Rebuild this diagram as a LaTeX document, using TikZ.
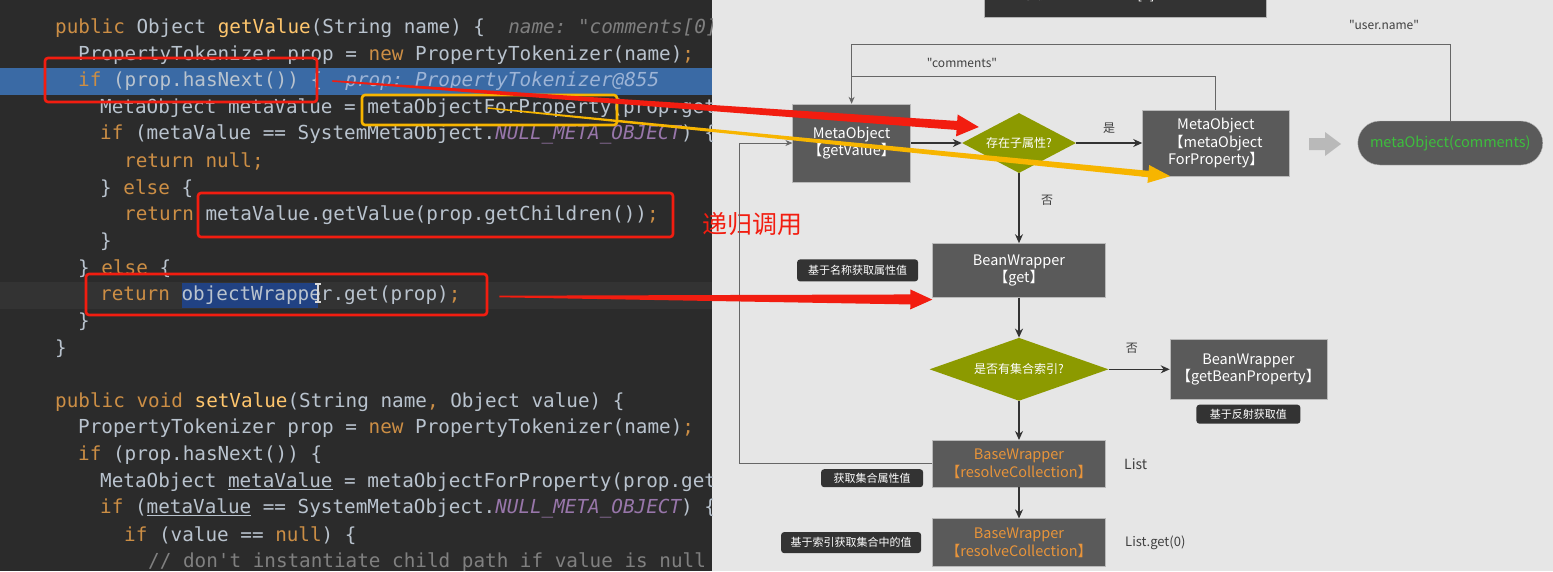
\documentclass[tikz,border=0pt]{standalone}
\usepackage{fontspec}
\setmainfont{Liberation Sans}
\setmonofont{DejaVu Sans Mono}
\newfontfamily\cjk{Noto Sans CJK SC}
\usepackage{xcolor}
\usetikzlibrary{shapes, arrows.meta, positioning, calc}

\definecolor{idebg}{HTML}{2B2B2B}
\definecolor{curline}{HTML}{333333}
\definecolor{bpline}{HTML}{3A6AA5}
\definecolor{selbg}{HTML}{214283}
\definecolor{txc}{HTML}{B9C3CE}
\definecolor{kwc}{HTML}{CC8E45}
\definecolor{fnc}{HTML}{FFC66D}
\definecolor{hintc}{HTML}{7F7F7F}
\definecolor{bphint}{HTML}{9DB4D6}
\definecolor{cstc}{HTML}{9876AA}
\definecolor{cmtc}{HTML}{808080}
\definecolor{canvas}{HTML}{E6E6E6}
\definecolor{boxgray}{HTML}{5A5A5A}
\definecolor{tagdark}{HTML}{333333}
\definecolor{olive}{HTML}{8C9A00}
\definecolor{wrapor}{HTML}{E8943A}
\definecolor{pillgreen}{HTML}{3DBE3D}
\definecolor{markred}{HTML}{F21D10}
\definecolor{markyellow}{HTML}{F7B500}

\newcommand{\jkw}[1]{\textcolor{kwc}{#1}}
\newcommand{\jfn}[1]{\textcolor{fnc}{#1}}
\newcommand{\jhint}[1]{\textcolor{hintc}{\itshape #1}}
\newcommand{\jbphint}[1]{\textcolor{bphint}{\itshape #1}}
\newcommand{\jcst}[1]{\textcolor{cstc}{\itshape #1}}
\newcommand{\jcmt}[1]{\textcolor{cmtc}{#1}}
% tapered arrow: colour, from, to, start half width, end half width, head half width
\newcommand{\fatarrow}[6]{%
  \coordinate (fab) at ($(#3)!22pt!(#2)$);
  \fill[#1] ($(#2)!#4!90:(#3)$) -- ($(fab)!#5!-90:(#2)$) -- ($(fab)!#6!-90:(#2)$) -- (#3)
    -- ($(fab)!#6!90:(#2)$) -- ($(fab)!#5!90:(#2)$) -- ($(#2)!#4!-90:(#3)$) -- cycle;}

\begin{document}
\begin{tikzpicture}[x=1pt, y=-1pt,
    codeline/.style={anchor=west, inner sep=0pt, text=txc, font=\ttfamily\fontsize{19.3}{23}\selectfont},
    stepbox/.style={draw=gray!55, fill=boxgray, text=white, align=center, inner sep=2pt, font=\cjk\fontsize{14.5}{17.5}\selectfont},
    decision/.style={diamond, fill=olive, text=white, inner sep=0pt, font=\cjk\fontsize{12}{14}\selectfont},
    tag/.style={fill=tagdark, rounded corners=3, text=white, inner sep=0pt, font=\cjk\fontsize{11}{13}\selectfont},
    note/.style={text=black!75, font=\cjk\fontsize{12}{14}\selectfont},
    flow/.style={draw=black!80, line width=1.4pt, -{Stealth[length=9pt, width=8pt]}},
    backline/.style={draw=black!60, line width=0.9pt},
    codemark/.style={draw=#1, line width=2.6pt, rounded corners=3, inner sep=0pt}]
    \useasboundingbox (0,0) rectangle (1553,571);
    \fill[canvas] (0,0) rectangle (1553,571);
    \fill[idebg] (0,0) rectangle (712,571);
    % Editor
    \begin{scope}
        \clip (0,0) rectangle (712,571);
        \fill[bpline] (0,68) rectangle (712,95);
        \fill[curline] (0,282) rectangle (712,309);
        \fill[selbg] (182,283) rectangle (318,308);
        \foreach \lx/\ly/\ltxt [count=\i] in {
            55/28/{\jkw{public} Object \jfn{getValue}(String name) \{~~\jhint{name: "comments[0].user.name"}},
            78/54.7/{PropertyTokenizer prop = \jkw{new} PropertyTokenizer(name)\jkw{;}},
            78/81.4/{\jkw{if} (prop.hasNext()) \{~~\jbphint{prop: PropertyTokenizer@855}},
            100/108.1/{MetaObject metaValue = metaObjectForProperty(prop.getName())\jkw{;}},
            100/134.8/{\jkw{if} (metaValue == SystemMetaObject.\jcst{NULL\_META\_OBJECT}) \{},
            124/161.5/{\jkw{return null;}},
            100/188.2/{\} \jkw{else} \{},
            124/214.9/{\jkw{return} metaValue.getValue(prop.getChildren())\jkw{;}},
            100/241.6/{\}},
            78/268.3/{\} \jkw{else} \{},
            100/295/{\jkw{return} objectWrapper.get(prop)\jkw{;}},
            78/321.7/{\}},
            55/348.4/{\}},
            55/401.8/{\jkw{public void} \jfn{setValue}(String name\jkw{,} Object value) \{},
            78/428.5/{PropertyTokenizer prop = \jkw{new} PropertyTokenizer(name)\jkw{;}},
            78/455.2/{\jkw{if} (prop.hasNext()) \{},
            100/481.9/{MetaObject \underline{metaValue} = metaObjectForProperty(prop.getName())\jkw{;}},
            100/508.6/{\jkw{if} (\underline{metaValue} == SystemMetaObject.\jcst{NULL\_META\_OBJECT}) \{},
            124/535.3/{\jkw{if} (value == \jkw{null}) \{},
            148/562/{\jcmt{// don't instantiate child path if value is null}}} {
            \node[codeline] (ln\i) at (\lx,\ly) {\ltxt};
        }
        \draw[white!85!black, line width=1.2pt] (318,284) -- (318,302) (315,284) -- (321,284) (315,302) -- (321,302);
    \end{scope}
    % Marks on the code
    \node[codemark=markred, minimum width=272, minimum height=44] (markA) at (181,80) {};
    \node[codemark=markyellow, minimum width=255, minimum height=30] (markY) at (489.5,110) {};
    \node[codemark=markred, minimum width=475, minimum height=44] (markB) at (435.5,215) {};
    \node[codemark=markred, minimum width=401, minimum height=41] (markC) at (286.5,294.5) {};
    \node[text=markred, font=\cjk\fontsize{25}{28}\selectfont] (recur) at (752,224) {递归调用};
    % Example path
    \node[fill=tagdark, draw=gray!60, text=white, minimum width=282, minimum height=44, font=\cjk\fontsize{14}{17}\selectfont] (sample) at (1125,-5) {示例： comments[0].user.name};
    % getValue chain
    \node[decision, aspect=1.9, minimum width=114, minimum height=60] (hassub) at (1019,143) {存在子属性?};
    \node[stepbox, minimum width=118, minimum height=78, left=51pt of hassub] (mvget) {MetaObject\\【getValue】};
    \node[stepbox, minimum width=147, minimum height=66, right=66pt of hassub] (mofp) {MetaObject\\【metaObject\\ForProperty】};
    \node[stepbox, rounded corners=22, text=pillgreen, minimum width=185, minimum height=44, right=68pt of mofp] (comments) {metaObject(comments)};
    \fill[gray!55] (1309,138) -- (1325,138) -- (1325,132) -- (1341,144) -- (1325,156) -- (1325,150) -- (1309,150) -- cycle;
    \node[stepbox, minimum width=173, minimum height=54, below=70pt of hassub] (bwget) {BeanWrapper\\【get】};
    \node[decision, aspect=2.84, minimum width=179, minimum height=63, below=40pt of bwget] (hasidx) {是否有集合索引?};
    \node[stepbox, minimum width=157, minimum height=60, right=61pt of hasidx] (bwprop) {BeanWrapper\\【getBeanProperty】};
    \node[stepbox, text=wrapor, minimum width=173, minimum height=47, below=39pt of hasidx] (coll) {BaseWrapper\\【resolveCollection】};
    \node[stepbox, text=wrapor, minimum width=173, minimum height=48, below=31pt of coll] (collget) {BaseWrapper\\【resolveCollection】};
    % Tags
    \node[tag, minimum width=121, minimum height=22, left=14pt of bwget] (byname) {基于名称获取属性值};
    \node[tag, minimum width=104, minimum height=19, below=5pt of bwprop] (byreflect) {基于反射获取值};
    \node[tag, minimum width=102, minimum height=18, anchor=south east] (collprop) at ($(coll.south west)+(-9,0)$) {获取集合属性值};
    \node[tag, minimum width=140, minimum height=21, left=11pt of collget] (byindex) {基于索引获取集合中的值};
    \node[note, anchor=west, font=\cjk\fontsize{14}{16}\selectfont, right=15pt of coll] (listlbl) {List};
    \node[note, anchor=west, font=\cjk\fontsize{13}{15}\selectfont, right=16pt of collget] (listget) {List.get(0)};
    \node[note] (commentslbl) at (962,63) {"comments"};
    \node[note] (userlbl) at (1384,25) {"user.name"};
    % Connectors
    \draw[flow] (mvget) -- (hassub);
    \draw[flow] (hassub) -- node[note, above=5pt, pos=0.5] {是} (mofp);
    \draw[flow] (hassub) -- node[note, right=18pt, pos=0.38] {否} (bwget);
    \draw[flow] (bwget) -- (hasidx);
    \draw[flow] (hasidx) -- node[note, above=12pt, pos=0.38] {否} (bwprop);
    \draw[flow] (hasidx) -- (coll);
    \draw[flow] (coll) -- (collget);
    \draw[backline, -{Stealth[length=7pt, width=6pt]}] (coll.west) -- ++(-193,0) |- (mvget.west);
    \draw[backline, -{Stealth[length=7pt, width=6pt]}] (comments.north) -- ++(0,-76) -| (mvget.north);
    \draw[backline] (mofp.north) |- ($(mvget.north)+(0,-27)$);
    % Pointers from the code
    \coordinate (hasnextout) at ($(markA.east)+(14,1)$);
    \coordinate (subin) at ($(hassub.west)+(17,-16)$);
    \coordinate (forpropout) at ($(markY.center)+(-2,-2)$);
    \coordinate (mofpin) at ($(mofp.south west)+(28,0)$);
    \coordinate (wrapout) at ($(markC.east)+(11,2)$);
    \coordinate (bwgetin) at ($(bwget.south west)+(0,2)$);
    \fatarrow{markyellow}{forpropout}{mofpin}{0.7pt}{3.2pt}{9pt}
    \fatarrow{markred}{hasnextout}{subin}{0.8pt}{4.5pt}{11pt}
    \fatarrow{markred}{wrapout}{bwgetin}{0.8pt}{5pt}{10pt}
\end{tikzpicture}
\end{document}
